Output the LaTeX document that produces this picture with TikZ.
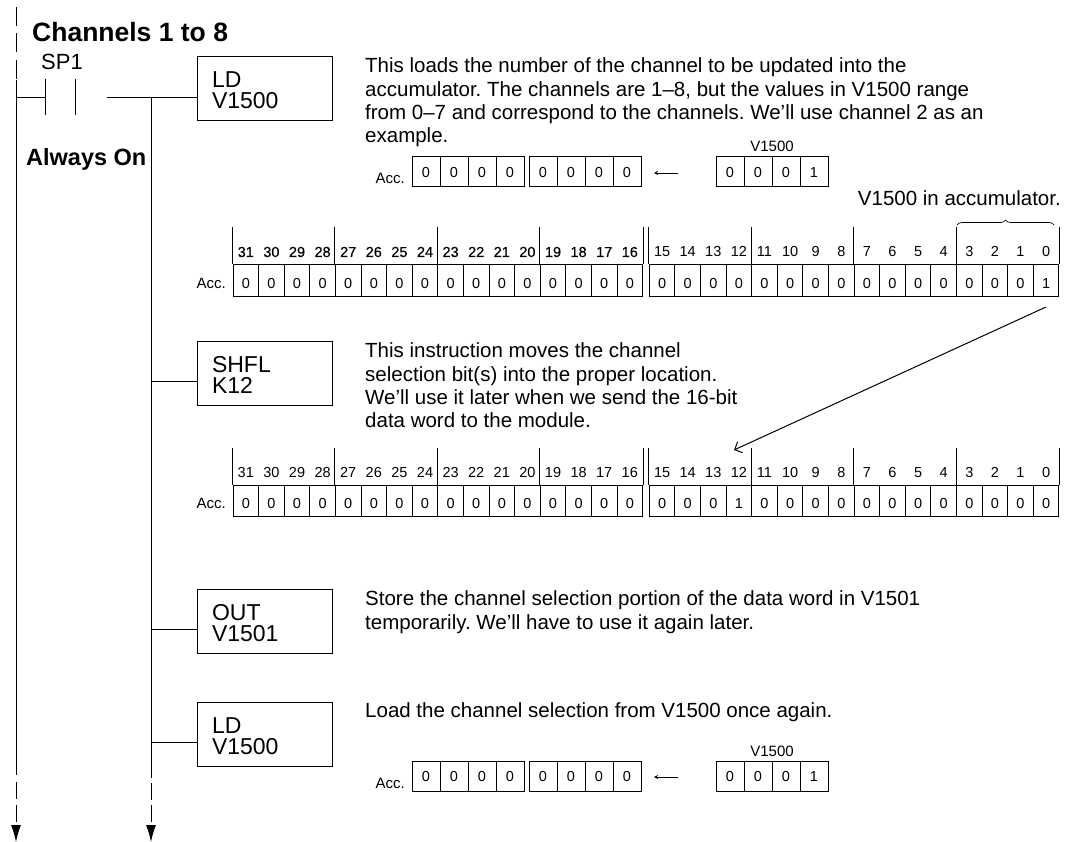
\documentclass[tikz,border=0pt]{standalone}
\usepackage{fontspec}
\setmainfont{Liberation Sans}
\newfontfamily\strucknum[FakeBold=0.25]{Liberation Sans}
\usepackage{xcolor}
\usepackage{tikz}
\usetikzlibrary{arrows.meta, positioning, calc, decorations.pathreplacing}

% Full 32 bit accumulator row: name, y of top tick, bit that holds the 1, font of bits 31-16
\newcommand{\accrow}[4]{%
    \foreach \b in {0,...,31} {
        \ifnum\b>15 \pgfmathsetmacro{\cx}{245.8+(31-\b)*25.6}\else \pgfmathsetmacro{\cx}{662.1+(15-\b)*25.6}\fi
        \node[cell] (#1c\b) at (\cx, #2+52.5) {\ifnum\b=#3 1\else 0\fi};
        \node[bitlabel, anchor=base] (#1n\b) at (\cx, #2+29) {\ifnum\b>15 #4\fi\b};
    }
    \foreach \b in {31,27,23,19,15,11,7,3} {
        \draw[line] (#1c\b.north west) -- ++(0,-37);
    }
    \draw[line] (#1c16.north east) -- ++(0,-37);
    \draw[line] (#1c0.north east) -- ++(0,-37);
}
% Four cell nibble: name, left edge, y of centre, values
\newcommand{\nibble}[4]{%
    \foreach \v [count=\k] in {#4} {
        \node[nibcell] (#1\k) at (#2+14+\k*28-28, #3) {\v};
    }
}

\begin{document}
\begin{tikzpicture}[
            x=1pt, y=-1pt,
            % Ladder instruction boxes
            instr/.style={draw, line width=1pt, minimum width=135pt, minimum height=64pt,
                    text width=105pt, inner xsep=15pt, inner ysep=0pt, align=left,
                    execute at begin node={\rule{0pt}{20pt}},
                    font=\fontsize{23}{21}\selectfont},
            % Register cells
            cell/.style={draw, line width=1pt, minimum width=25.6pt, minimum height=31pt,
                    inner sep=0pt, text height=15pt, text depth=0pt,
                    font=\fontsize{14.5}{16}\selectfont},
            nibcell/.style={draw, line width=1pt, minimum width=28pt, minimum height=30pt,
                    inner sep=0pt, text height=11pt, text depth=0pt,
                    font=\fontsize{14.5}{16}\selectfont},
            bitlabel/.style={inner sep=0pt, font=\fontsize{14.5}{16}\selectfont},
            smalltext/.style={inner sep=0pt, font=\fontsize{15}{16}\selectfont},
            % Explanations
            note/.style={inner sep=0pt, anchor=north west, align=left,
                    font=\fontsize{20.5}{23.3}\selectfont\frenchspacing},
            % Lines
            line/.style={line width=1pt},
            thinarr/.style={line width=0.8pt, -{Stealth[length=4pt, width=4pt]}},
            rail/.style={line width=1pt},
            railend/.style={line width=1pt, -{Latex[length=17pt, width=10pt]}},
        ]
        \useasboundingbox (0,0) rectangle (1073,842);

        % Headings
        \node[inner sep=0pt, anchor=base west, font=\fontsize{26.5}{28}\selectfont\bfseries] (title) at (32,41.5) {Channels 1 to 8};
        \node[inner sep=0pt, anchor=base west, font=\fontsize{22}{24}\selectfont] (sp1) at (41,70) {SP1};
        \node[inner sep=0pt, anchor=base west, font=\fontsize{23.5}{25}\selectfont\bfseries] (always) at (26,166) {Always On};

        % Instruction boxes
        \node[instr] (ld1) at (264.5,88.6) {LD\\V1500};
        \node[instr] (shfl) at (264.5,373) {SHFL\\K12};
        \node[instr] (out) at (264.5,621) {OUT\\V1501};
        \node[instr] (ld2) at (264.5,734) {LD\\V1500};

        % Rails
        \coordinate (leftTop) at (16,7);
        \coordinate (leftA) at (16,80);
        \coordinate (leftRung) at (16,97.5);
        \coordinate (leftB) at (16,775);
        \coordinate (leftC) at (16,782);
        \coordinate (leftEnd) at (16,842);
        \coordinate (mainTop) at (151,97.5);
        \coordinate (mainB) at (151,778);
        \coordinate (mainC) at (151,783);
        \coordinate (mainEnd) at (151,842);
        \draw[rail, dash pattern=on 19pt off 7.5pt] (leftTop) -- (leftA);
        \draw[rail] (leftA) -- (leftB);
        \draw[railend, dash pattern=on 17pt off 6pt] (leftC) -- (leftEnd);
        \draw[rail] (mainTop) -- (mainB);
        \draw[railend, dash pattern=on 17pt off 5pt] (mainC) -- (mainEnd);

        % Contact and rungs
        \coordinate (contactA) at (45.5,97.5);
        \coordinate (contactB) at (75.5,97.5);
        \coordinate (rungStart) at (107,97.5);
        \draw[line] (leftRung) -- (contactA);
        \draw[line] ([yshift=18pt]contactA) -- ([yshift=-18pt]contactA);
        \draw[line] ([yshift=18pt]contactB) -- ([yshift=-18pt]contactB);
        \draw[line] (rungStart) -- (rungStart -| ld1.west);
        \draw[line] (mainTop |- {$(shfl.north)+(0,40.5)$}) -- ($(shfl.north west)+(0,40.5)$);
        \draw[line] (mainTop |- {$(out.north)+(0,40.5)$}) -- ($(out.north west)+(0,40.5)$);
        \draw[line] (mainTop |- {$(ld2.north)+(0,40.5)$}) -- ($(ld2.north west)+(0,40.5)$);

        % Explanations
        \node[note] (n1) at (365,57.7) {This loads the number of the channel to be updated into the\\accumulator. The channels are 1–8, but the values in V1500 range\\from 0–7 and correspond to the channels. We’ll use channel 2 as an\\example.};
        \node[note] (n2) at (365,342.7) {This instruction moves the channel\\selection bit(s) into the proper location.\\We’ll use it later when we send the 16-bit\\data word to the module.};
        \node[note] (n3) at (365,590.7) {Store the channel selection portion of the data word in V1501\\temporarily. We’ll have to use it again later.};
        \node[note] (n4) at (365,702.3) {Load the channel selection from V1500 once again.};

        % Load of V1500, first time
        \node[smalltext, anchor=base east] (acc1) at (405,184) {Acc.};
        \nibble{ah}{412}{172}{0,0,0,0}
        \nibble{al}{529}{172}{0,0,0,0}
        \nibble{v}{716}{172}{0,0,0,1}
        \node[smalltext, anchor=base] (v1500a) at (772,152) {V1500};
        \coordinate (loadA) at (678,173);
        \coordinate (loadB) at (654,173);
        \draw[thinarr] (loadA) -- (loadB);

        % Accumulator before the shift
        \node[smalltext, anchor=base east] (acc2) at (226,288) {Acc.};
        \accrow{p}{228}{0}{\strucknum}
        \node[inner sep=0pt, anchor=base east, font=\fontsize{20.5}{21.5}\selectfont] (inacc) at (1061,206) {V1500 in accumulator.};
        \coordinate (braceA) at (957,225);
        \coordinate (braceB) at (1054,225);
        \draw[line width=0.7pt, decorate, decoration={brace, amplitude=5pt}] (braceA) -- (braceB);

        % Accumulator after the shift
        \node[smalltext, anchor=base east] (acc3) at (226,508) {Acc.};
        \accrow{q}{448}{12}{}
        \coordinate (shiftA) at (1046,307);
        \coordinate (shiftB) at (734,450);
        \draw[line, -{Straight Barb[length=6pt, width=12pt]}] (shiftA) -- (shiftB);

        % Load of V1500, second time
        \node[smalltext, anchor=base east] (acc4) at (405,788) {Acc.};
        \nibble{bh}{412}{776}{0,0,0,0}
        \nibble{bl}{529}{776}{0,0,0,0}
        \nibble{w}{716}{776}{0,0,0,1}
        \node[smalltext, anchor=base] (v1500b) at (772,756) {V1500};
        \coordinate (againA) at (678,777);
        \coordinate (againB) at (654,777);
        \draw[thinarr] (againA) -- (againB);
    \end{tikzpicture}
\end{document}
